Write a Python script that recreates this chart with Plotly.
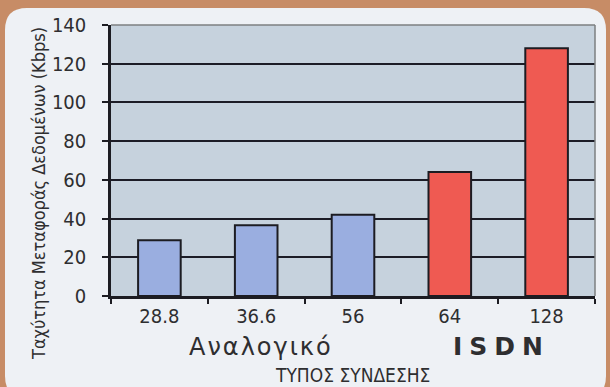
import plotly.graph_objects as go

# Connection speeds (Kbps) by connection type
categories = ["28.8", "36.6", "56", "64", "128"]
speeds = [28.8, 36.6, 42, 64, 128]
conn_type = ["analog", "analog", "analog", "isdn", "isdn"]
y_ticks = [0, 20, 40, 60, 80, 100, 120, 140]

W, H = 610, 387
L, R, T, B = 111, 15, 25, 91
PW, PH = W - L - R, H - T - B

def px(x):
    return (x - L) / PW

def py(y):
    return (H - B - y) / PH

colors = {"analog": "#9aaee0", "isdn": "#ef5a52"}
bar_colors = [colors[c] for c in conn_type]

narrow = "DejaVu Sans Condensed, Liberation Sans Narrow, Arial Narrow, sans-serif"
wide = "DejaVu Sans, Verdana, sans-serif"
ink = "#2e2e30"

fig = go.Figure(
    go.Bar(
        x=categories,
        y=speeds,
        marker=dict(color=bar_colors, line=dict(color="#1c1c22", width=2)),
        hoverinfo="x+y",
    )
)

# rounded light panel on a brown backdrop
x0, x1, y0, y1, r = 5, 606, 8, 398, 22
panel = (
    f"M {px(x0)},{py(y0 + r)} Q {px(x0)},{py(y0)} {px(x0 + r)},{py(y0)} "
    f"L {px(x1 - r)},{py(y0)} Q {px(x1)},{py(y0)} {px(x1)},{py(y0 + r)} "
    f"L {px(x1)},{py(y1 - r)} Q {px(x1)},{py(y1)} {px(x1 - r)},{py(y1)} "
    f"L {px(x0 + r)},{py(y1)} Q {px(x0)},{py(y1)} {px(x0)},{py(y1 - r)} Z"
)

shapes = [
    dict(type="path", path=panel, xref="paper", yref="paper",
         fillcolor="#eef1f5", line=dict(width=0), layer="below"),
    dict(type="rect", x0=0, x1=1, y0=0, y1=1, xref="paper", yref="paper",
         fillcolor="#c6d2dd", line=dict(width=0), layer="below"),
    dict(type="line", x0=0, x1=1, y0=1, y1=1, xref="paper", yref="paper",
         line=dict(color="#7c7f80", width=1.5)),
    dict(type="line", x0=1, x1=1, y0=0, y1=1, xref="paper", yref="paper",
         line=dict(color="#7c7f80", width=1.5)),
]

annotations = [
    dict(text="<span style='letter-spacing:2px'>Αναλογικό</span>", x=px(261), y=py(347),
         xref="paper", yref="paper", showarrow=False, xanchor="center", yanchor="middle",
         font=dict(family=wide, size=24, color=ink)),
    dict(text="<span style='letter-spacing:7px'>ISDN</span>", x=px(501), y=py(347),
         xref="paper", yref="paper", showarrow=False, xanchor="center", yanchor="middle",
         font=dict(family=wide, size=25, color=ink, weight="bold")),
    dict(text="ΤΥΠΟΣ ΣΥΝΔΕΣΗΣ", x=px(352), y=py(375), xref="paper", yref="paper",
         showarrow=False, xanchor="center", yanchor="middle",
         font=dict(family=narrow, size=19, color=ink)),
    dict(text="Ταχύτητα Μεταφοράς Δεδομένων (Kbps)", x=px(38), y=py(194),
         xref="paper", yref="paper", showarrow=False, textangle=-90,
         xanchor="center", yanchor="middle",
         font=dict(family=narrow, size=18, color=ink)),
]

fig.update_layout(
    width=W, height=H,
    margin=dict(l=L, r=R, t=T, b=B, pad=0),
    paper_bgcolor="#c78c66",
    plot_bgcolor="rgba(0,0,0,0)",
    bargap=0.56,
    showlegend=False,
    shapes=shapes,
    annotations=annotations,
    xaxis=dict(
        type="category", tickson="boundaries", ticks="outside", ticklen=5,
        tickwidth=2, tickcolor="#1c1c22", showline=True, linecolor="#1c1c22",
        linewidth=2.5, showgrid=False,
        tickfont=dict(family=narrow, size=20, color=ink),
    ),
    yaxis=dict(
        range=[0, 140], tickvals=y_ticks, ticks="outside", ticklen=6,
        tickwidth=2, tickcolor="#1c1c22", showline=True, linecolor="#1c1c22",
        linewidth=2.5, showgrid=True, gridcolor="#1c1c26", gridwidth=2,
        zeroline=False, ticklabelstandoff=12,
        tickfont=dict(family=narrow, size=20, color=ink),
    ),
)

fig.write_html("out.html")
